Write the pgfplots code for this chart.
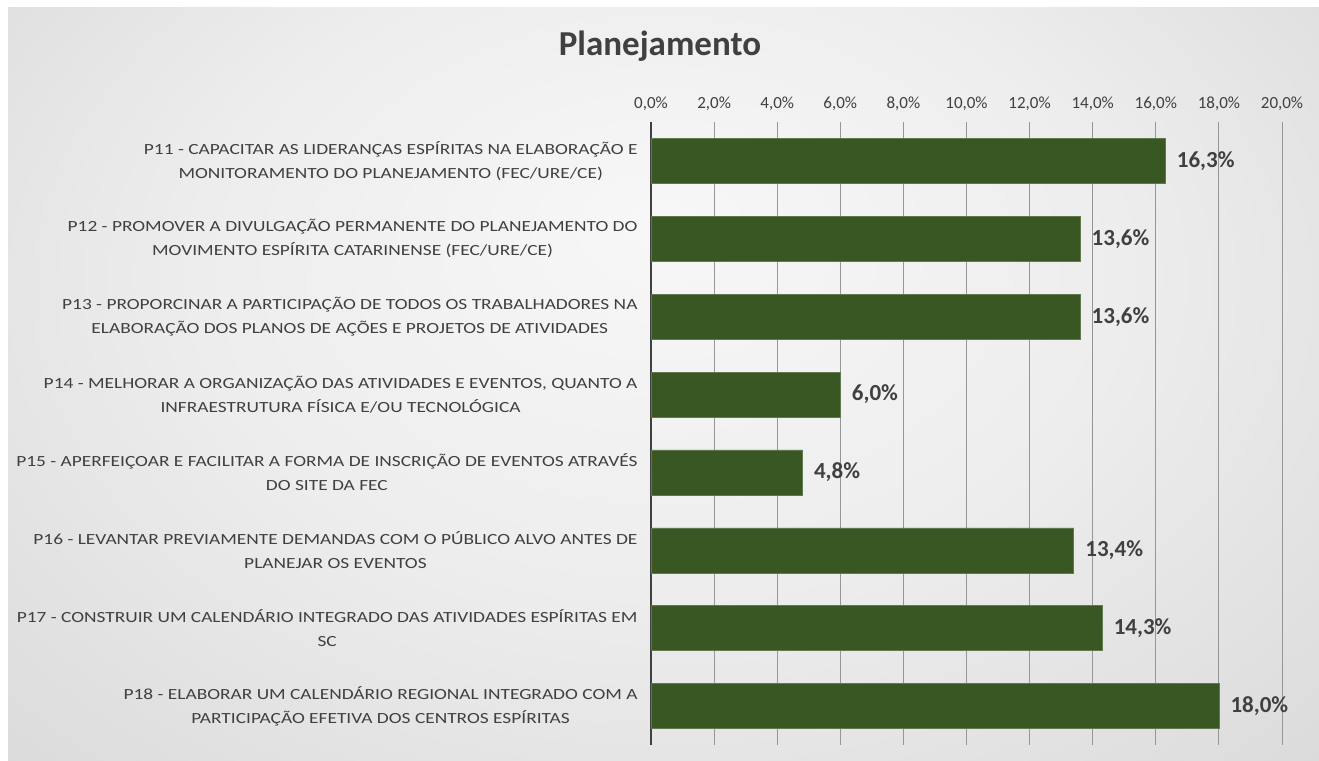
\documentclass[border=0pt]{standalone}
\usepackage{pgfplots}
\pgfplotsset{compat=1.18}
\usepackage{fontspec}
\setmainfont{Carlito}
\newfontfamily\labfont[FakeStretch=1.25]{Carlito}
\definecolor{bargreen}{RGB}{56,87,35}
\definecolor{txt}{RGB}{64,64,64}
\definecolor{gridc}{RGB}{150,150,150}
\pgfdeclareradialshading{bgshade}{\pgfpoint{0bp}{8bp}}{color(0bp)=(white!97!black); color(16bp)=(white!93!black); color(36bp)=(white!84!black); color(50bp)=(white!78!black)}
\begin{document}
\begin{tikzpicture}[x=1pt,y=1pt]
\fill[white] (0,0) rectangle (1319,760);
\begin{scope}
\clip (8,0) rectangle (1319,752);
\fill[white!78!black] (0,-20) rectangle (1340,760);
\shade[shading=bgshade] (-60,-120) rectangle (1380,880);
\end{scope}
\node[font={\fontsize{35}{40}\selectfont\bfseries}, text=txt, anchor=base] at (660,704) {Planejamento};
\begin{axis}[
  at={(651pt,15pt)}, anchor=south west,
  scale only axis, width=631pt, height=623pt,
  xbar, bar width=45pt,
  xmin=0, xmax=20, ymin=-0.5, ymax=7.5, y dir=reverse,
  axis x line*=top, axis y line*=left,
  x axis line style={draw=none},
  y axis line style={draw=txt, line width=2pt, -},
  major tick length=0pt,
  xmajorgrids, grid style={gridc, line width=1pt},
  xtick={0,2,...,20},
  xticklabels={{0,0\%},{2,0\%},{4,0\%},{6,0\%},{8,0\%},{10,0\%},{12,0\%},{14,0\%},{16,0\%},{18,0\%},{20,0\%}},
  xticklabel style={font={\fontsize{17}{20}\selectfont}, text=txt, yshift=8pt},
  ytick={0,...,7},
  yticklabels={
    {P11 - CAPACITAR AS LIDERANÇAS ESPÍRITAS NA ELABORAÇÃO E\\MONITORAMENTO DO PLANEJAMENTO (FEC/URE/CE)},
    {P12 - PROMOVER A DIVULGAÇÃO PERMANENTE DO PLANEJAMENTO DO\\MOVIMENTO ESPÍRITA CATARINENSE (FEC/URE/CE)},
    {P13 - PROPORCINAR A PARTICIPAÇÃO DE TODOS OS TRABALHADORES NA\\ELABORAÇÃO DOS PLANOS DE AÇÕES E PROJETOS DE ATIVIDADES},
    {P14 - MELHORAR A ORGANIZAÇÃO DAS ATIVIDADES E EVENTOS, QUANTO A\\INFRAESTRUTURA FÍSICA E/OU TECNOLÓGICA},
    {P15 - APERFEIÇOAR E FACILITAR A FORMA DE INSCRIÇÃO DE EVENTOS ATRAVÉS\\DO SITE DA FEC},
    {P16 - LEVANTAR PREVIAMENTE DEMANDAS COM O PÚBLICO ALVO ANTES DE\\PLANEJAR OS EVENTOS},
    {P17 - CONSTRUIR UM CALENDÁRIO INTEGRADO DAS ATIVIDADES ESPÍRITAS EM\\SC},
    {P18 - ELABORAR UM CALENDÁRIO REGIONAL INTEGRADO COM A\\PARTICIPAÇÃO EFETIVA DOS CENTROS ESPÍRITAS}},
  yticklabel style={font={\labfont\fontsize{15.5}{24}\selectfont}, text=txt, align=center, xshift=-10pt},
  /pgf/number format/assume math mode=true,
  nodes near coords={\pgfmathprintnumber[fixed,fixed zerofill,precision=1,use comma]{\pgfplotspointmeta}\%},
  nodes near coords style={font={\fontsize{23}{26}\selectfont\bfseries}, text=txt, anchor=west, xshift=8pt},
  point meta=explicit,
]
\addplot[fill=bargreen, draw=bargreen!80!white, line width=0.6pt] table[x=v, y=i, meta=v] {
i v
0 16.3
1 13.6
2 13.6
3 6.0
4 4.8
5 13.4
6 14.3
7 18.0
};
\end{axis}
\end{tikzpicture}
\end{document}
